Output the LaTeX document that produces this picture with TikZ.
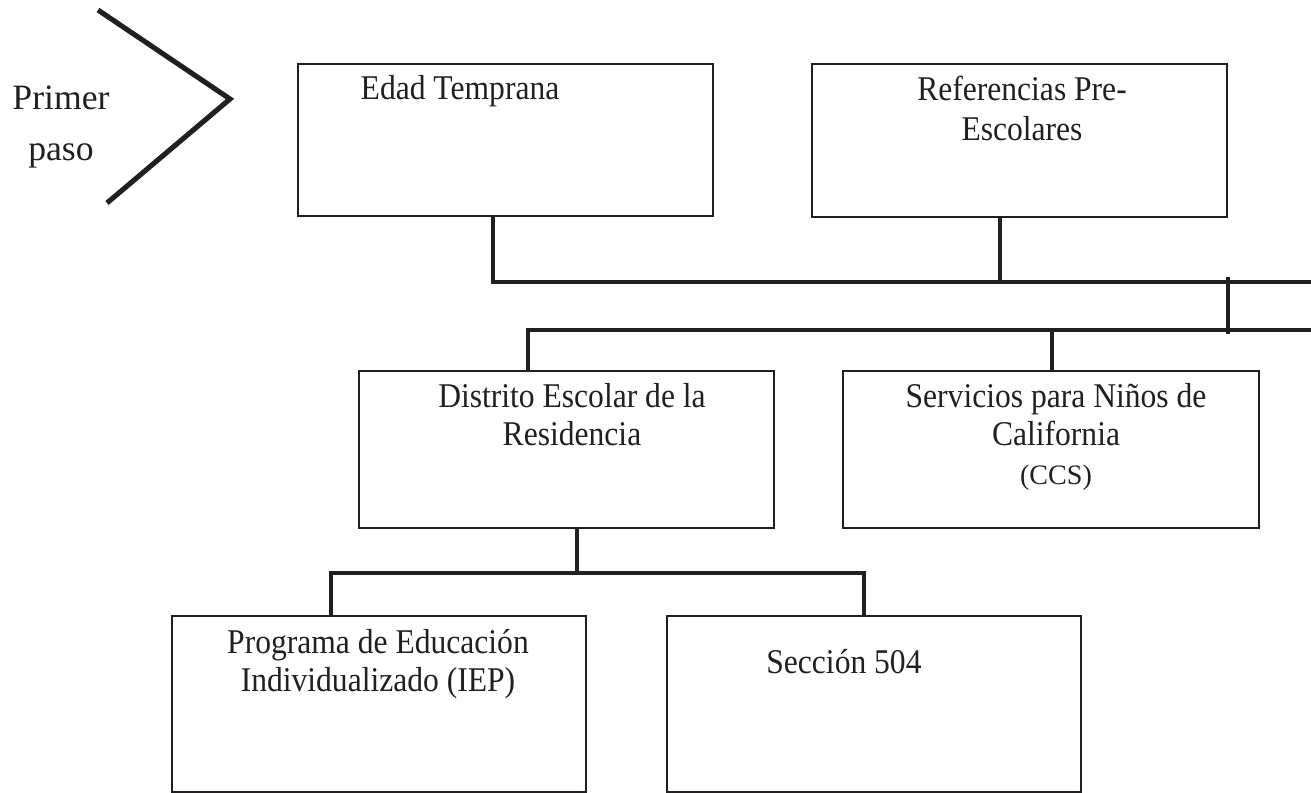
\documentclass[tikz,border=0pt]{standalone}
\usepackage{fontspec}
\setmainfont{Liberation Serif}[FakeStretch=0.91]
\newfontfamily\rectafont{Liberation Serif}
\definecolor{tinta}{HTML}{231F20}
\begin{document}
\begin{tikzpicture}[x=0.02cm,y=-0.02cm]
	\tikzset{Caja/.style = {draw=tinta, line width=1.5pt, rectangle, inner sep=0pt, minimum width=8.3cm}}
	\tikzset{Texto/.style = {inner sep=0pt, align=center, text=tinta, font=\fontsize{19.75}{21.5}\selectfont}}
	\tikzset{Linea/.style = {draw=tinta, line width=1.9pt}}
	\useasboundingbox (0,0) rectangle (1311,793);

	\draw[tinta, line width=2.9pt] (98,10) -- (230,99) -- (107,203);
	\node[Texto, anchor=north, font=\rectafont\fontsize{20.3}{24}\selectfont] (Paso) at (61,86) {Primer\\[4.5pt]paso};

	\node[Caja, minimum height=3.04cm] (Edad) at (505.5,140) {};
	\node[Caja, minimum height=3.06cm] (Ref) at (1019.5,140.5) {};
	\node[Caja, minimum height=3.14cm] (Dist) at (566.5,449.5) {};
	\node[Caja, minimum height=3.14cm, minimum width=8.32cm] (Serv) at (1051,449.5) {};
	\node[Caja, minimum height=3.52cm, minimum width=8.28cm] (Iep) at (379,704) {};
	\node[Caja, minimum height=3.52cm, minimum width=8.28cm] (Secc) at (874,704) {};

	\node[Texto, anchor=base] (EdadT) at (460,100) {Edad Temprana};
	\node[Texto, anchor=north] (RefT) at (1022,76) {Referencias Pre-\\[1pt]Escolares};
	\node[Texto, anchor=north] (DistT) at (572,383) {Distrito Escolar de la\\Residencia};
	\node[Texto, anchor=north] (ServT) at (1056,383) {Servicios para Niños de\\California\\[1pt]{\rectafont\fontsize{16}{17}\selectfont (CCS)}};
	\node[Texto, anchor=north] (IepT) at (378,629) {Programa de Educación\\Individualizado (IEP)};
	\node[Texto, anchor=base west] (SeccT) at (766,673) {Sección 504};

	\coordinate (A) at (493,282);
	\coordinate (B) at (1000,282);
	\coordinate (C) at (1311,282);
	\draw[Linea] (A |- Edad.south) -- (A) -- (C);
	\draw[Linea] (B |- Ref.south) -- (B);
	\coordinate (D) at (1228,277);
	\coordinate (E) at (1228,334);
	\draw[Linea] (D) -- (E);
	\coordinate (F) at (528,330);
	\coordinate (G) at (1311,330);
	\coordinate (H) at (1052,330);
	\draw[Linea] (Dist.north -| F) -- (F) -- (G);
	\draw[Linea] (H) -- (Serv.north -| H);
	\coordinate (I) at (577,573);
	\coordinate (J) at (331,573);
	\coordinate (K) at (864,573);
	\draw[Linea] (Dist.south -| I) -- (I);
	\draw[Linea] (Iep.north -| J) -- (J) -- (K) -- (Secc.north -| K);
\end{tikzpicture}
\end{document}
